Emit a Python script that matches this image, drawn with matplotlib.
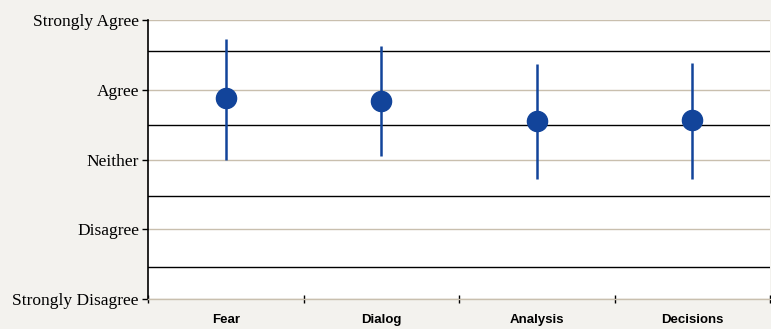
import matplotlib
matplotlib.use("Agg")
import matplotlib.pyplot as plt

categories = ["Fear", "Dialog", "Analysis", "Decisions"]
means = [3.88, 3.84, 3.55, 3.57]
upper = [4.73, 4.63, 4.37, 4.38]
lower = [3.00, 3.05, 2.72, 2.72]
level_labels = ["Strongly Disagree", "Disagree", "Neither", "Agree", "Strongly Agree"]
level_values = [1, 2, 3, 4, 5]
ref_lines = [4.556, 3.495, 2.477, 1.463]

bg = "#f3f2ee"
dot = "#12449a"
grid_c = "#c9bfae"

fig = plt.figure(figsize=(7.71, 3.29), dpi=100, facecolor=bg)
ax = fig.add_axes([148/771, 1-299/329, 622/771, 279/329])
ax.set_facecolor("white")

x = [i + 0.5 for i in range(len(categories))]
ax.set_xlim(0, len(categories))
ax.set_ylim(1, 5)

for v in level_values:
    ax.axhline(v, color=grid_c, lw=1.0, zorder=1)
for v in ref_lines:
    ax.axhline(v, color="black", lw=1.0, zorder=1)

yerr = [[m - l for m, l in zip(means, lower)], [u - m for m, u in zip(means, upper)]]
ax.errorbar(x, means, yerr=yerr, fmt="o", color=dot, ecolor=dot, elinewidth=1.8,
            markersize=14.5, capsize=0, zorder=3)

ax.set_yticks(level_values)
ax.set_yticklabels(level_labels, family="Liberation Serif", fontsize=12.5)
ax.tick_params(axis="y", direction="out", length=4.5, width=1, color="black", pad=2)

ax.set_xticks(range(len(categories) + 1))
ax.set_xticklabels([])
ax.set_xticks(x, minor=True)
ax.set_xticklabels(categories, minor=True, family="Liberation Sans", fontsize=9.5,
                   fontweight="bold")
ax.tick_params(axis="x", which="major", direction="inout", length=6, width=1, color="black")
ax.tick_params(axis="x", which="minor", length=0, pad=11)

for s in ["top", "right"]:
    ax.spines[s].set_visible(False)
ax.spines["bottom"].set_color(grid_c)
ax.spines["bottom"].set_linewidth(1.0)
ax.spines["left"].set_color("black")
ax.spines["left"].set_linewidth(1.2)

fig.savefig("out.png", dpi=100, facecolor=bg)
